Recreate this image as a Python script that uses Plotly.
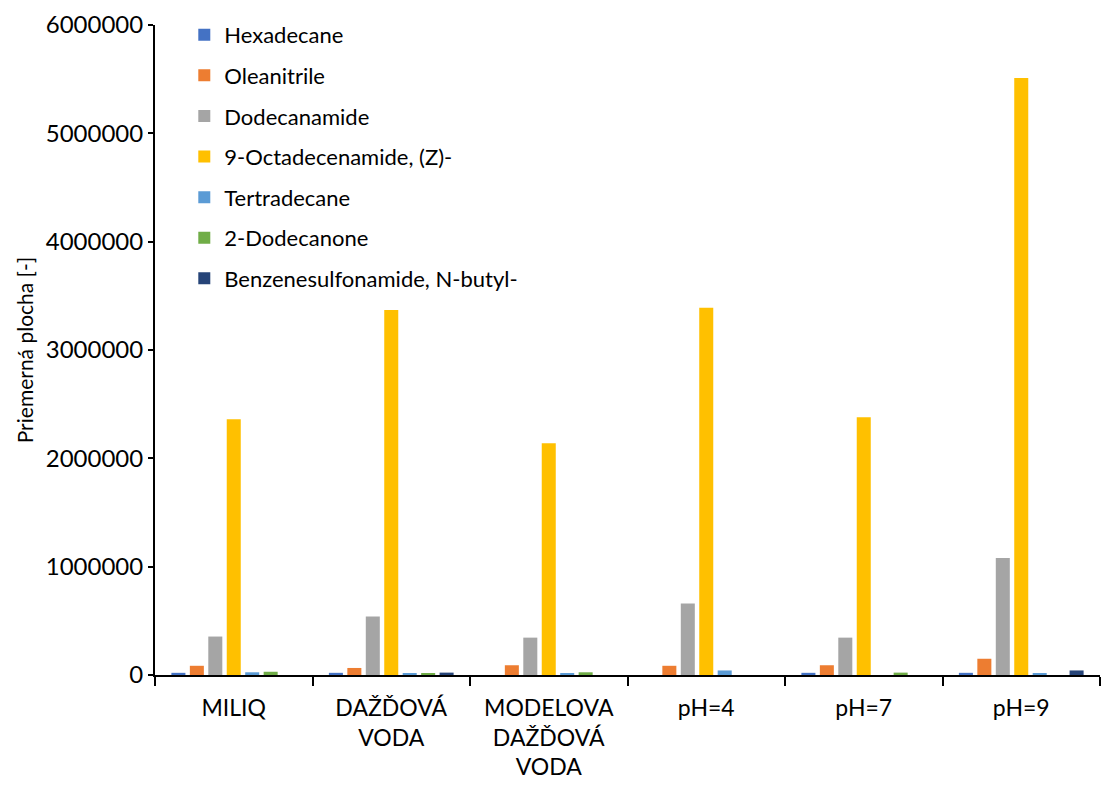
import plotly.graph_objects as go

categories = ["MILIQ", "DAŽĎOVÁ<br>VODA", "MODELOVA<br>DAŽĎOVÁ<br>VODA", "pH=4", "pH=7", "pH=9"]

hexadecane = [20000, 20000, 0, 0, 20000, 20000]
oleanitrile = [85000, 65000, 90000, 85000, 90000, 150000]
dodecanamide = [355000, 540000, 345000, 660000, 345000, 1080000]
octadecenamide = [2360000, 3370000, 2140000, 3390000, 2380000, 5510000]
tertradecane = [25000, 15000, 10000, 42000, 0, 18000]
dodecanone = [30000, 10000, 25000, 0, 22000, 0]
benzenesulfonamide = [0, 22000, 0, 0, 0, 42000]

series = [
    ("Hexadecane", hexadecane, "#4472C4"),
    ("Oleanitrile", oleanitrile, "#ED7D31"),
    ("Dodecanamide", dodecanamide, "#A5A5A5"),
    ("9-Octadecenamide, (Z)-", octadecenamide, "#FFC000"),
    ("Tertradecane", tertradecane, "#5B9BD5"),
    ("2-Dodecanone", dodecanone, "#70AD47"),
    ("Benzenesulfonamide, N-butyl-", benzenesulfonamide, "#264478"),
]

FONT = "Lato, 'Open Sans', sans-serif"

fig = go.Figure()
for i, (name, vals, color) in enumerate(series):
    fig.add_trace(go.Bar(
        name=name, x=categories, y=vals,
        marker=dict(color=color, line=dict(width=0)),
        legendgroup=f"g{i}",
    ))

fig.update_layout(
    width=1103, height=785,
    margin=dict(l=155, r=3, t=25, b=110),
    paper_bgcolor="white", plot_bgcolor="white",
    barmode="group", bargap=0.18, bargroupgap=0.24,
    font=dict(family=FONT, size=23, color="black"),
    legend=dict(
        x=0.031, y=1.017, xanchor="left", yanchor="top",
        bgcolor="rgba(0,0,0,0)", font=dict(size=22, color="black"),
        traceorder="grouped", tracegroupgap=9,
        itemwidth=30,
    ),
    xaxis=dict(
        showline=True, linecolor="black", linewidth=2,
        ticks="outside", tickson="boundaries", ticklen=9, tickwidth=1.5, tickcolor="black",
        tickfont=dict(size=23), showgrid=False, ticklabelstandoff=11,
    ),
    yaxis=dict(
        range=[0, 6000000], dtick=1000000, tickformat="d",
        showline=True, linecolor="black", linewidth=2,
        ticks="outside", ticklen=5, tickwidth=1.5, tickcolor="black",
        showgrid=False, zeroline=False,
        tickfont=dict(size=24),
        title=dict(text="Priemerná plocha [-]", font=dict(size=21), standoff=6),
    ),
)

fig.write_html("out.html")
